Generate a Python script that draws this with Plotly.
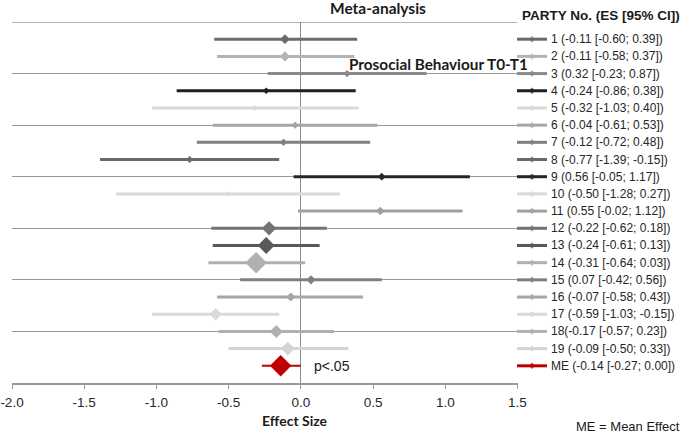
import plotly.graph_objects as go

# ---------------- data ----------------
party = ["1", "2", "3", "4", "5", "6", "7", "8", "9", "10",
         "11", "12", "13", "14", "15", "16", "17", "18", "19", "ME"]
es = [-0.11, -0.11, 0.32, -0.24, -0.32, -0.04, -0.12, -0.77, 0.56, -0.50,
      0.55, -0.22, -0.24, -0.31, 0.07, -0.07, -0.59, -0.17, -0.09, -0.14]
ci_low = [-0.60, -0.58, -0.23, -0.86, -1.03, -0.61, -0.72, -1.39, -0.05, -1.28,
          -0.02, -0.62, -0.61, -0.64, -0.42, -0.58, -1.03, -0.57, -0.50, -0.27]
ci_high = [0.39, 0.37, 0.87, 0.38, 0.40, 0.53, 0.48, -0.15, 1.17, 0.27,
           1.12, 0.18, 0.13, 0.03, 0.56, 0.43, -0.15, 0.23, 0.33, 0.00]
legend_labels = [
    "1 (-0.11 [-0.60; 0.39])", "2 (-0.11 [-0.58; 0.37])", "3 (0.32 [-0.23; 0.87])",
    "4 (-0.24 [-0.86; 0.38])", "5 (-0.32 [-1.03; 0.40])", "6 (-0.04 [-0.61; 0.53])",
    "7 (-0.12 [-0.72; 0.48])", "8 (-0.77 [-1.39; -0.15])", "9 (0.56 [-0.05; 1.17])",
    "10 (-0.50 [-1.28; 0.27])", "11 (0.55 [-0.02; 1.12])", "12 (-0.22 [-0.62; 0.18])",
    "13 (-0.24 [-0.61; 0.13])", "14 (-0.31 [-0.64; 0.03])", "15 (0.07 [-0.42; 0.56])",
    "16 (-0.07 [-0.58; 0.43])", "17 (-0.59 [-1.03; -0.15])", "18(-0.17 [-0.57; 0.23])",
    "19 (-0.09 [-0.50; 0.33])", "ME (-0.14 [-0.27; 0.00])",
]
tick_vals = [-2.0, -1.5, -1.0, -0.5, 0.0, 0.5, 1.0, 1.5]
tick_labels = ["-2.0", "-1.5", "-1.0", "-0.5", "0.0", "0.5", "1.0", "1.5"]

# ---------------- styles ----------------
colors = ["#6b6b6b", "#b3b3b3", "#8a8a8a", "#1f1f1f", "#d9d9d9", "#a6a6a6",
          "#7f7f7f", "#6a6a6a", "#262626", "#d9d9d9", "#a0a0a0", "#737373",
          "#595959", "#b0b0b0", "#7f7f7f", "#a6a6a6", "#d9d9d9", "#b0b0b0",
          "#d4d4d4", "#c00000"]
marker_sizes = [7.5, 7.7, 5.5, 5, 4, 5.5, 5.5, 5.5, 6, 4,
                6.5, 11, 13, 16.5, 7, 7, 9.5, 10, 10.5, 16.5]
bar_width = [3] * 19 + [2]

W, H = 685, 433
ML, MR, MT, MB = 12, 0, 22, 50
PW, PH = W - ML - MR, H - MT - MB


def px_x(p):
    return (p - ML) / PW


def px_y(p):
    return (H - MB - p) / PH


x_end = px_x(517.5)
leg_start, leg_end = px_x(517), px_x(547)

rows = list(range(1, len(party) + 1))

fig = go.Figure()

for i, r in enumerate(rows):
    fig.add_trace(go.Scatter(
        x=[es[i]], y=[r], mode="markers",
        marker=dict(symbol="diamond", size=marker_sizes[i], color=colors[i],
                    line=dict(width=0)),
        error_x=dict(type="data", symmetric=False,
                     array=[ci_high[i] - es[i]], arrayminus=[es[i] - ci_low[i]],
                     color=colors[i], thickness=bar_width[i], width=0),
        showlegend=False, hoverinfo="skip", xaxis="x", yaxis="y",
    ))
    # legend glyph
    fig.add_trace(go.Scatter(
        x=[0, 0.5, 1], y=[r, r, r], mode="lines+markers",
        line=dict(color=colors[i], width=3),
        marker=dict(symbol="diamond", size=[0, 5, 0], color=colors[i], line=dict(width=0)),
        showlegend=False, hoverinfo="skip", xaxis="x2", yaxis="y2", cliponaxis=False,
    ))

annotations = []
for i, r in enumerate(rows):
    annotations.append(dict(
        x=1, xref="x2", y=r, yref="y2", text=legend_labels[i], showarrow=False,
        xanchor="left", yanchor="middle", xshift=2,
        font=dict(family="Liberation Sans, Arial, sans-serif", size=12, color="#262626"),
    ))

annotations += [
    dict(x=px_x(520), y=px_y(16), xref="paper", yref="paper", text="<b>PARTY No. (ES [95% CI])</b>",
         showarrow=False, xanchor="left", yanchor="middle",
         font=dict(family="Liberation Sans, Arial, sans-serif", size=13.5, color="#1a1a1a")),
    dict(x=px_x(378), y=px_y(7.5), xref="paper", yref="paper", text="<b>Meta-analysis</b>",
         showarrow=False, xanchor="center", yanchor="middle",
         font=dict(family="Lato, sans-serif", size=15.5, color="#1a1a1a")),
    dict(x=px_x(438), y=px_y(64), xref="paper", yref="paper", text="<b>Prosocial Behaviour T0-T1</b>",
         showarrow=False, xanchor="center", yanchor="middle",
         font=dict(family="Lato, sans-serif", size=15.3, color="#1a1a1a")),
    dict(x=px_x(295), y=px_y(421), xref="paper", yref="paper", text="<b>Effect Size</b>",
         showarrow=False, xanchor="center", yanchor="middle",
         font=dict(family="Lato, sans-serif", size=14, color="#1a1a1a")),
    dict(x=0.075, xref="x", y=20, yref="y", text="p<.05",
         showarrow=False, xanchor="left", yanchor="middle",
         font=dict(family="Liberation Sans, Arial, sans-serif", size=14, color="#1a1a1a")),
    dict(x=px_x(682), y=px_y(426), xref="paper", yref="paper", text="ME = Mean Effect",
         showarrow=False, xanchor="right", yanchor="middle",
         font=dict(family="Liberation Sans, Arial, sans-serif", size=13, color="#1a1a1a")),
]

fig.update_layout(
    width=W, height=H,
    margin=dict(l=ML, r=MR, t=MT, b=MB, autoexpand=False),
    plot_bgcolor="white", paper_bgcolor="white",
    xaxis=dict(domain=[0, x_end], range=[-2, 1.5], tickvals=tick_vals, ticktext=tick_labels,
               ticks="outside", ticklen=4, tickwidth=1.3, tickcolor="#999999",
               showline=True, linecolor="#999999", linewidth=1.5,
               zeroline=True, zerolinecolor="#8c8c8c", zerolinewidth=1.3,
               showgrid=False, anchor="y", ticklabelstandoff=2,
               tickfont=dict(family="Liberation Sans, Arial, sans-serif", size=13.5, color="#262626")),
    yaxis=dict(range=[21, 0], tick0=0, dtick=3, showgrid=True, gridcolor="#999999", gridwidth=1.3,
               showticklabels=False, zeroline=False, showline=False, ticks="", anchor="x"),
    xaxis2=dict(domain=[leg_start, leg_end], range=[0, 1], visible=False, anchor="y2"),
    yaxis2=dict(range=[21, 0], visible=False, anchor="x2"),
    shapes=[dict(type="line", xref="x", yref="y", x0=-2, x1=1.5, y0=0, y1=0,
                 line=dict(color="#999999", width=1.3), layer="below")],
    annotations=annotations,
)

fig.write_html(
    "out.html",
    config={"displayModeBar": False},
    post_script="document.body.style.margin='0';document.body.style.overflow='hidden';",
)
